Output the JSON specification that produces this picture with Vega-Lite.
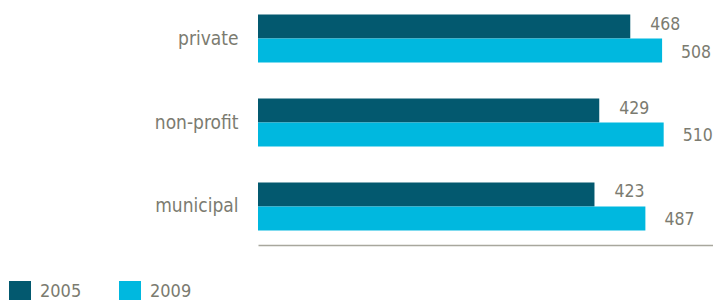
{
  "$schema": "https://vega.github.io/schema/vega-lite/v6.json",
  "width": 455,
  "height": 245,
  "autosize": {"type": "none"},
  "padding": {"left": 258, "top": 0, "right": 0, "bottom": 55},
  "background": "white",
  "config": {"view": {"stroke": null}},
  "data": {
    "values": [
      {"type": "private", "year": "2005", "value": 468},
      {"type": "private", "year": "2009", "value": 508},
      {"type": "non-profit", "year": "2005", "value": 429},
      {"type": "non-profit", "year": "2009", "value": 510},
      {"type": "municipal", "year": "2005", "value": 423},
      {"type": "municipal", "year": "2009", "value": 487}
    ]
  },
  "encoding": {
    "y": {
      "field": "type",
      "type": "nominal",
      "sort": ["private", "non-profit", "municipal"],
      "scale": {"paddingInner": 0.4286, "paddingOuter": 0.173},
      "axis": {
        "title": null,
        "domain": false,
        "ticks": false,
        "labelPadding": 20,
        "labelFont": "DejaVu Sans Condensed",
        "labelFontSize": 19,
        "labelColor": "#7b7b70"
      }
    },
    "yOffset": {"field": "year", "type": "nominal", "sort": ["2005", "2009"]},
    "x": {
      "field": "value",
      "type": "quantitative",
      "scale": {"domain": [0, 572]},
      "axis": {
        "title": null,
        "domain": true,
        "domainColor": "#a8a79d",
        "domainWidth": 1.5,
        "ticks": false,
        "labels": false,
        "grid": false
      }
    }
  },
  "layer": [
    {
      "mark": {"type": "bar"},
      "encoding": {
        "color": {
          "field": "year",
          "type": "nominal",
          "scale": {"domain": ["2005", "2009"], "range": ["#03596f", "#00b8df"]},
          "legend": {
            "title": null,
            "orient": "none",
            "legendX": -249,
            "legendY": 281,
            "direction": "horizontal",
            "symbolType": "square",
            "symbolSize": 484,
            "symbolStrokeWidth": 0,
            "labelFont": "DejaVu Sans Condensed",
            "labelFontSize": 18,
            "labelColor": "#7b7b70",
            "labelOffset": 9,
            "columnPadding": 37
          }
        }
      }
    },
    {
      "transform": [{"filter": "datum.year === '2005'"}],
      "mark": {
        "type": "text",
        "align": "left",
        "baseline": "middle",
        "dx": 20,
        "dy": -2,
        "font": "DejaVu Sans Condensed",
        "fontSize": 17.5,
        "color": "#7b7b70"
      },
      "encoding": {"text": {"field": "value", "type": "quantitative"}}
    },
    {
      "transform": [{"filter": "datum.year === '2009'"}],
      "mark": {
        "type": "text",
        "align": "left",
        "baseline": "middle",
        "dx": 19,
        "dy": 2,
        "font": "DejaVu Sans Condensed",
        "fontSize": 17.5,
        "color": "#7b7b70"
      },
      "encoding": {"text": {"field": "value", "type": "quantitative"}}
    }
  ]
}
